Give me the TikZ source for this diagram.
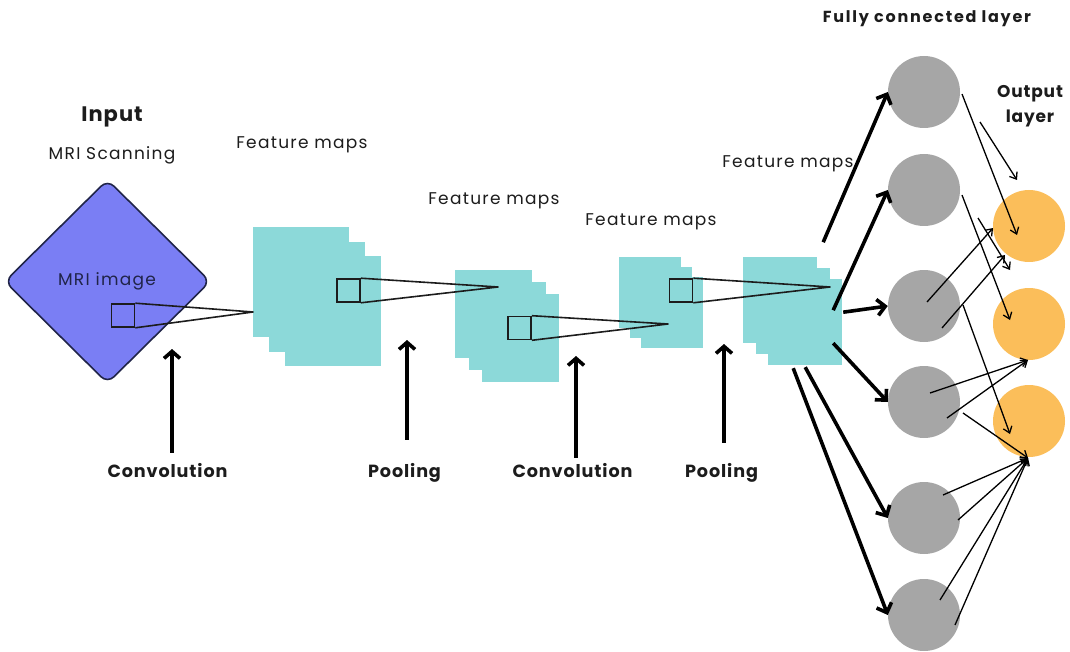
\documentclass[tikz,border=0pt]{standalone}
\usepackage{fontspec}
\setmainfont{Poppins}
\newfontfamily\lblfont[LetterSpace=7.5]{Poppins}
\newfontfamily\boldfont[LetterSpace=5]{Poppins}
\newfontfamily\widefont[LetterSpace=11]{Poppins}
\usetikzlibrary{arrows.meta,shapes.geometric,calc}
\definecolor{mriblue}{RGB}{122,126,244}
\definecolor{navy}{RGB}{32,36,72}
\definecolor{fmapcyan}{RGB}{140,217,217}
\definecolor{fcgray}{RGB}{166,166,166}
\definecolor{outorange}{RGB}{251,190,90}
\definecolor{ink}{RGB}{28,28,28}
\begin{document}
\begin{tikzpicture}[x=1pt,y=-1pt,
  lbl/.style={text=ink, font=\lblfont\fontsize{17}{20}\selectfont, inner sep=0},
  blbl/.style={text=ink, font=\boldfont\bfseries\fontsize{17.6}{20}\selectfont, inner sep=0},
  oplbl/.style={blbl, anchor=base},
  fmap/.style={fill=fmapcyan, draw=none, inner sep=0, anchor=north west},
  kernel/.style={draw=ink, line width=1.6pt, inner sep=0, minimum width=23pt, minimum height=23pt},
  cone/.style={draw=ink, line width=1.6pt, line join=round},
  uparrow/.style={draw=black, line width=3.6pt, -{Straight Barb[length=7pt,width=16pt]}},
  fcarrow/.style={draw=black, line width=3.6pt, -{Straight Barb[length=8pt,width=16pt]}},
  outarrow/.style={draw=black, line width=1.3pt, -{Straight Barb[length=6pt,width=9pt]}},
  fcnode/.style={circle, fill=fcgray, minimum size=72pt, inner sep=0},
  outnode/.style={circle, fill=outorange, minimum size=72pt, inner sep=0},
]
\useasboundingbox (0,0) rectangle (1070,652);

% ---------- input ----------
\node[blbl, font=\boldfont\bfseries\fontsize{21}{24}\selectfont] (input) at (112,117) {Input};
\node[lbl] (scan) at (112,155) {MRI Scanning};
\node[diamond, aspect=1, draw=navy, line width=1.6pt, fill=mriblue,
      minimum width=206pt, minimum height=204pt, inner sep=0, rounded corners=9pt] (mri) at (107.5,281.5) {};
\node[lbl, text=navy] (mritxt) at (107,281) {MRI image};

% ---------- feature map stacks ----------
\node[fmap, minimum width=96pt, minimum height=110pt] (s1a) at (253,227) {};
\node[fmap, minimum width=96pt, minimum height=110pt] (s1b) at (269,242) {};
\node[fmap, minimum width=96pt, minimum height=110pt] (s1c) at (285,256) {};

\node[fmap, minimum width=77pt, minimum height=88pt] (s2a) at (455,270) {};
\node[fmap, minimum width=77pt, minimum height=88pt] (s2b) at (469,282) {};
\node[fmap, minimum width=77pt, minimum height=88pt] (s2c) at (482,294) {};

\node[fmap, minimum width=62pt, minimum height=71pt] (s3a) at (619,257) {};
\node[fmap, minimum width=62pt, minimum height=71pt] (s3b) at (630,267) {};
\node[fmap, minimum width=62pt, minimum height=71pt] (s3c) at (641,277) {};

\node[fmap, minimum width=74pt, minimum height=86pt] (s4a) at (743,257) {};
\node[fmap, minimum width=74pt, minimum height=86pt] (s4b) at (756,268) {};
\node[fmap, minimum width=74pt, minimum height=86pt] (s4c) at (768,279) {};

\node[lbl] (fm1) at (302,145) {Feature maps};
\node[lbl] (fm2) at (494,201) {Feature maps};
\node[lbl] (fm3) at (651,222) {Feature maps};
\node[lbl] (fm4) at (788,164) {Feature maps};

% ---------- kernels and receptive-field cones ----------
\node[kernel] (k1) at (123,315.5) {};
\node[kernel] (k2) at (348.5,290.5) {};
\node[kernel] (k3) at (519.5,328) {};
\node[kernel] (k4) at (681,290.5) {};
\coordinate (a1) at (253,312);
\coordinate (a2) at (498,287);
\coordinate (a3) at (668,324);
\coordinate (a4) at (830,287);
\draw[cone] (k1.north east) -- (a1) -- (k1.south east);
\draw[cone] (k2.north east) -- (a2) -- (k2.south east);
\draw[cone] (k3.north east) -- (a3) -- (k3.south east);
\draw[cone] (k4.north east) -- (a4) -- (k4.south east);

% ---------- operation labels ----------
\node[oplbl] (conv1) at (167.5,477) {Convolution};
\node[oplbl] (pool1) at (404.5,477) {Pooling};
\node[oplbl] (conv2) at (572.5,477) {Convolution};
\node[oplbl] (pool2) at (721.5,477) {Pooling};
\coordinate (t1) at (172,349);
\coordinate (t2) at (407,340);
\coordinate (t3) at (576,356);
\coordinate (t4) at (724,344);
\draw[uparrow] ($(t1 |- conv1.north)+(0,-10)$) -- (t1);
\draw[uparrow] ($(t2 |- pool1.north)+(0,-23)$) -- (t2);
\draw[uparrow] ($(t3 |- conv2.north)+(0,-5)$) -- (t3);
\draw[uparrow] ($(t4 |- pool2.north)+(0,-20)$) -- (t4);

% ---------- fully connected and output layers ----------
\node[blbl, font=\widefont\bfseries\fontsize{16}{18}\selectfont] (fctitle) at (927,19) {Fully connected layer};
\node[blbl, align=center, font=\boldfont\bfseries\fontsize{17}{25}\selectfont] (outtitle) at (1030,106) {Output\\layer};

\node[fcnode] (g1) at (924,92) {};
\node[fcnode] (g2) at (924,190) {};
\node[fcnode] (g3) at (924,306) {};
\node[fcnode] (g4) at (924,402) {};
\node[fcnode] (g5) at (924,518) {};
\node[fcnode] (g6) at (924,615) {};

\node[outnode] (o1) at (1029,226) {};
\node[outnode] (o2) at (1029,324) {};
\node[outnode] (o3) at (1029,421) {};

% feature maps -> fully connected layer
\draw[fcarrow] ($(s4c.center)+(18,-80)$) -- (g1.west);
\draw[fcarrow] ($(s4c.center)+(28,-12)$) -- (g2.west);
\draw[fcarrow] ($(s4c.center)+(38,-10)$) -- (g3.west);
\draw[fcarrow] ($(s4c.center)+(28,21)$) -- (g4.west);
\draw[fcarrow] ($(s4c.center)+(0,45)$) -- (g5.west);
\draw[fcarrow] ($(s4c.center)+(-12,46)$) -- (g6.west);

% fully connected layer -> output layer
\draw[outarrow] ($(g1)+(38,2)$) -- ($(o1)+(-12,9)$);
\draw[outarrow] ($(g1)+(56,30)$) -- ($(o1)+(-12,-46)$);
\draw[outarrow] ($(g2)+(38,5)$) -- ($(o2)+(-19,-4)$);
\draw[outarrow] ($(g2)+(54,28)$) -- ($(o2)+(-19,-54)$);
\draw[outarrow] ($(g3)+(3,-4)$) -- ($(o1)+(-36,2)$);
\draw[outarrow] ($(g3)+(18,22)$) -- ($(o1)+(-24,29)$);
\draw[outarrow] ($(g3)+(39,-1)$) -- ($(o3)+(-19,13)$);
\draw[outarrow] ($(g4)+(6,-9)$) -- ($(o2)+(-1,36)$);
\draw[outarrow] ($(g4)+(23,16)$) -- ($(o2)+(-1,36)$);
\draw[outarrow] ($(g4)+(39,11)$) -- ($(o3)+(-1,37)$);
\draw[outarrow] ($(g5)+(19,-23)$) -- ($(o3)+(-1,37)$);
\draw[outarrow] ($(g5)+(34,2)$) -- ($(o3)+(-1,37)$);
\draw[outarrow] ($(g6)+(16,-15)$) -- ($(o3)+(-1,37)$);
\draw[outarrow] ($(g6)+(31,10)$) -- ($(o3)+(-1,37)$);
\end{tikzpicture}
\end{document}
